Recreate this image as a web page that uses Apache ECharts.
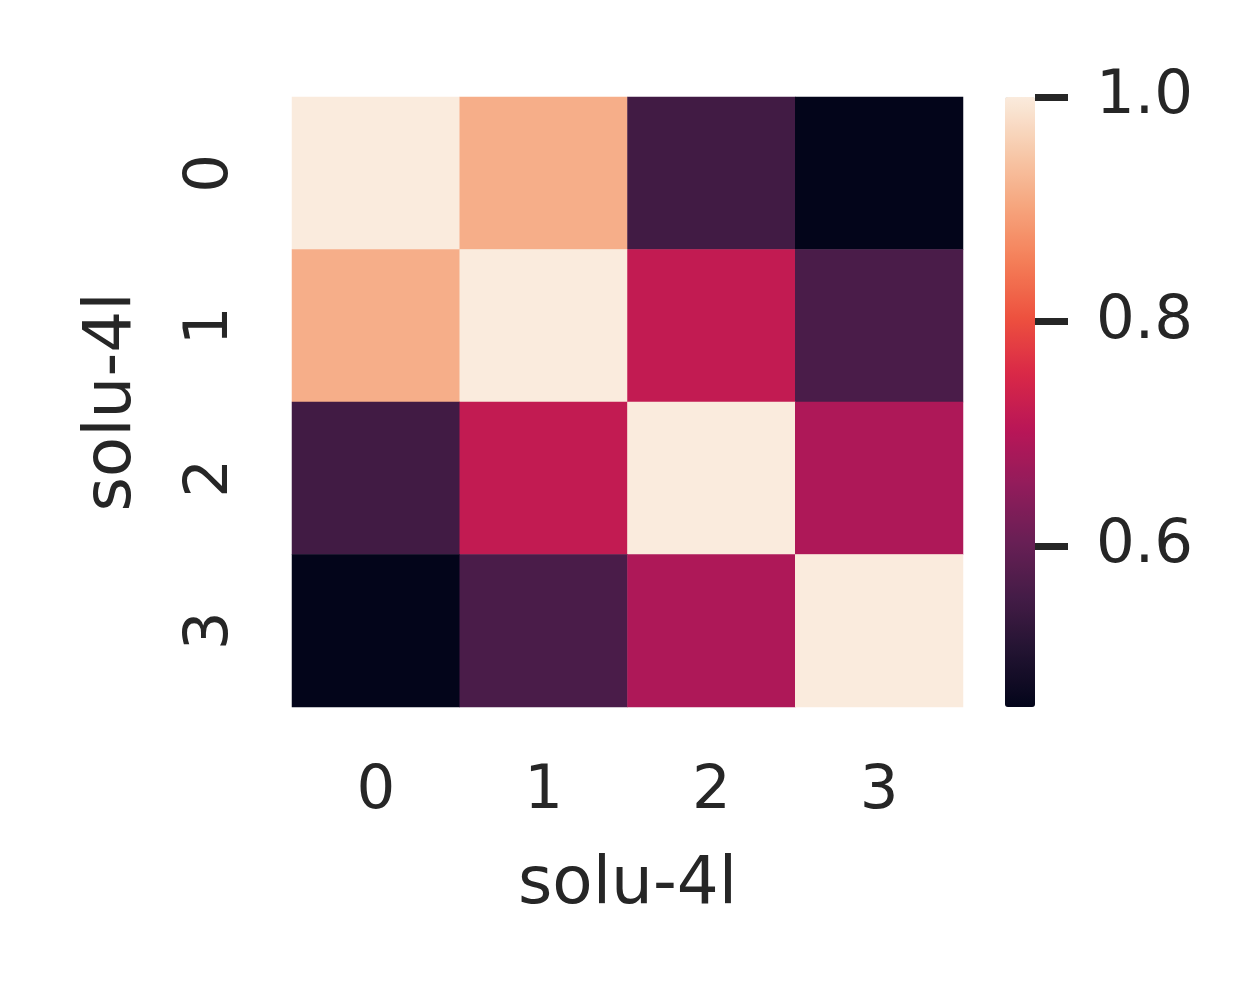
<!DOCTYPE html>
<html>
<head>
<meta charset="utf-8">
<script src="https://cdn.jsdelivr.net/npm/echarts@6/dist/echarts.min.js"></script>
<style>
  html, body { margin: 0; padding: 0; background: #fff; }
  #chart { width: 1250px; height: 1000px; }
</style>
</head>
<body>
<div id="chart"></div>
<script>
// categories on both axes
var xCats = ['0', '1', '2', '3'];
var yCats = ['0', '1', '2', '3'];
// similarity matrix, one row per y category
var row0 = [1.0, 0.915, 0.55, 0.457];
var row1 = [0.915, 1.0, 0.718, 0.562];
var row2 = [0.55, 0.718, 1.0, 0.69];
var row3 = [0.457, 0.562, 0.69, 1.0];
var rows = [row0, row1, row2, row3];
// colorbar range and ticks
var vMin = 0.457;
var vMax = 1.0;
var cbarTicks = [0.6, 0.8, 1.0];
var axisName = 'solu-4l';

// rocket colormap
var rocket = ['#03051a', '#221331', '#451c47', '#691f55', '#921c5b', '#b91657',
  '#d92847', '#ed503e', '#f47d57', '#f6a47c', '#f7c9aa', '#faebdd'];

var heatData = [];
rows.forEach(function (r, yi) {
  r.forEach(function (v, xi) {
    heatData.push([xi, yi, v]);
  });
});

var txt = '#262626';
var font = 'DejaVu Sans';

var chart = echarts.init(document.getElementById('chart'));
chart.setOption({
  backgroundColor: '#fff',
  animation: false,
  textStyle: { fontFamily: font, color: txt },
  grid: [
    { left: 292, top: 97, width: 671, height: 610 },
    { left: 1005, top: 97, width: 30, height: 610 }
  ],
  xAxis: [
    {
      gridIndex: 0,
      type: 'category',
      data: xCats,
      axisLine: { show: false },
      axisTick: { show: false },
      splitLine: { show: false },
      axisLabel: { fontSize: 61, color: txt, fontFamily: font, margin: 55 },
      name: axisName,
      nameLocation: 'middle',
      nameGap: 146,
      nameTextStyle: { fontSize: 66, color: txt, fontFamily: font }
    },
    {
      gridIndex: 1,
      type: 'value',
      show: false
    }
  ],
  yAxis: [
    {
      gridIndex: 0,
      type: 'category',
      data: yCats,
      inverse: true,
      axisLine: { show: false },
      axisTick: { show: false },
      splitLine: { show: false },
      axisLabel: { fontSize: 61, color: txt, fontFamily: font, rotate: 90, margin: 50 },
      name: axisName,
      nameLocation: 'middle',
      nameRotate: 90,
      nameGap: 146,
      nameTextStyle: { fontSize: 66, color: txt, fontFamily: font }
    },
    {
      // colorbar axis
      gridIndex: 1,
      type: 'value',
      position: 'right',
      z: 10,
      min: vMin,
      max: vMax,
      axisLine: { show: false, onZero: false },
      splitLine: { show: false },
      axisTick: {
        show: true,
        length: 33,
        customValues: cbarTicks,
        lineStyle: { color: txt, width: 7 }
      },
      axisLabel: {
        customValues: cbarTicks,
        fontSize: 61,
        color: txt,
        fontFamily: font,
        margin: 61,
        formatter: function (v) { return v.toFixed(1); }
      }
    }
  ],
  visualMap: {
    type: 'continuous',
    z: 1,
    min: vMin,
    max: vMax,
    dimension: 2,
    seriesIndex: 0,
    calculable: false,
    realtime: false,
    left: 1005,
    top: 97,
    itemWidth: 30,
    itemHeight: 610,
    padding: 0,
    text: null,
    showLabel: false,
    inRange: { color: rocket }
  },
  series: [
    {
      type: 'heatmap',
      xAxisIndex: 0,
      yAxisIndex: 0,
      data: heatData,
      itemStyle: { borderWidth: 0 },
      emphasis: { disabled: true }
    },
    {
      type: 'line',
      xAxisIndex: 1,
      yAxisIndex: 1,
      data: [],
      silent: true
    }
  ]
});
</script>
</body>
</html>
